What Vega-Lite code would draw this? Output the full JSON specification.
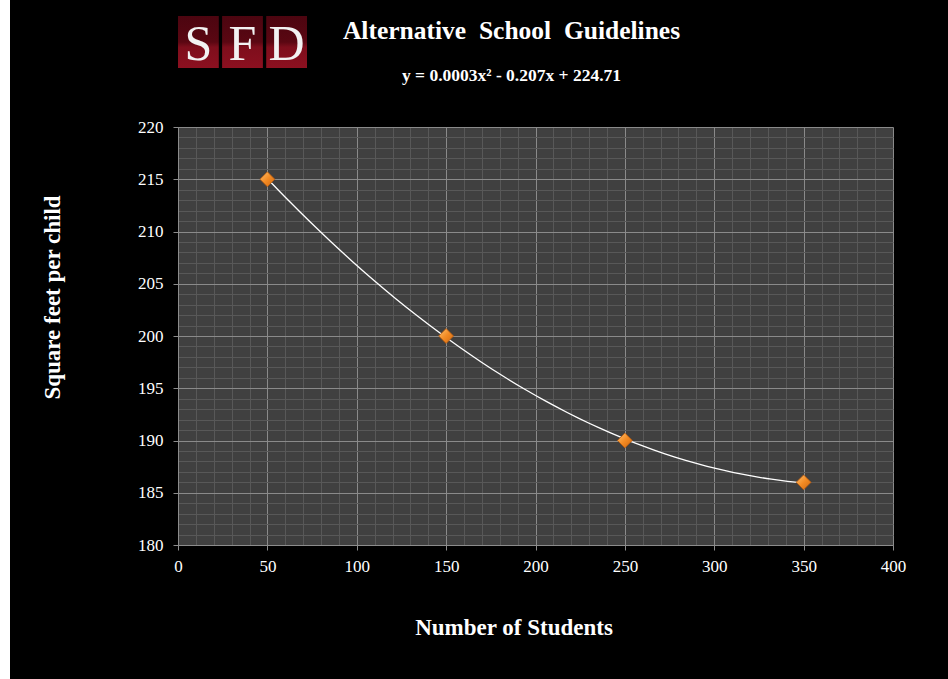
{
  "$schema": "https://vega.github.io/schema/vega-lite/v6.json",
  "background": "black",
  "autosize": {"type": "pad"},
  "padding": {"left": 0, "top": 0, "right": 46, "bottom": 0},
  "bounds": "flush",
  "spacing": 168,
  "config": {
    "font": "Liberation Serif",
    "view": {"stroke": null},
    "axis": {
      "labelColor": "white",
      "labelFont": "Liberation Serif",
      "labelFontSize": 17,
      "titleColor": "white",
      "titleFont": "Liberation Serif",
      "titleFontSize": 23,
      "titleFontWeight": "bold",
      "domainColor": "#8c8c8c",
      "tickColor": "#8c8c8c",
      "labelOverlap": false,
      "labelFlush": false
    },
    "title": {
      "color": "white",
      "font": "Liberation Serif",
      "fontSize": 25.5,
      "fontWeight": "bold",
      "subtitleColor": "white",
      "subtitleFont": "Liberation Serif",
      "subtitleFontSize": 17.5,
      "subtitleFontWeight": "bold"
    }
  },
  "hconcat": [
    {
      "width": 10,
      "height": 679,
      "view": {"fill": "white", "stroke": null},
      "data": {"values": []},
      "mark": {"type": "point", "opacity": 0}
    },
    {
      "bounds": "flush",
      "spacing": 59,
      "vconcat": [
        {
          "width": 129,
          "height": 68,
          "data": {
            "values": [
              {"letter": "S", "logo": "SFD"},
              {"letter": "F", "logo": "SFD"},
              {"letter": "D", "logo": "SFD"}
            ]
          },
          "encoding": {
            "x": {
              "field": "letter",
              "type": "nominal",
              "sort": null,
              "scale": {"paddingInner": 0.075, "paddingOuter": 0},
              "axis": null
            },
            "y": {
              "field": "logo",
              "type": "nominal",
              "scale": {"paddingInner": 0, "paddingOuter": 0.1538, "align": 1},
              "axis": null
            }
          },
          "layer": [
            {
              "mark": {
                "type": "rect",
                "fill": {
                  "gradient": "linear",
                  "x1": 0, "y1": 0, "x2": 0, "y2": 1,
                  "stops": [
                    {"offset": 0, "color": "#4c0510"},
                    {"offset": 0.5, "color": "#5a0712"},
                    {"offset": 0.6, "color": "#7e0e1c"},
                    {"offset": 1, "color": "#8c1020"}
                  ]
                }
              }
            },
            {
              "mark": {
                "type": "text",
                "color": "#f2f2f2",
                "font": "Liberation Serif",
                "fontSize": 50,
                "baseline": "middle",
                "dy": 3
              },
              "encoding": {"text": {"field": "letter"}}
            }
          ]
        },
        {
          "width": 715,
          "height": 418,
          "view": {"fill": "#404040", "stroke": null},
          "title": {
            "text": "Alternative\u00a0 School\u00a0 Guidelines",
            "subtitle": "y = 0.0003x² - 0.207x + 224.71",
            "anchor": "middle",
            "frame": "group",
            "offset": 34,
            "subtitlePadding": 22,
            "dx": -24
          },
          "data": {
            "values": [
              {"students": 50, "sqft": 215},
              {"students": 150, "sqft": 200},
              {"students": 250, "sqft": 190},
              {"students": 350, "sqft": 186}
            ]
          },
          "encoding": {
            "x": {
              "field": "students",
              "type": "quantitative",
              "scale": {"domain": [0, 400], "nice": false},
              "axis": {
                "title": "Number of Students",
                "titleX": 335.5,
                "titlePadding": 42,
                "values": [0,10,20,30,40,50,60,70,80,90,100,110,120,130,140,150,160,170,180,190,200,210,220,230,240,250,260,270,280,290,300,310,320,330,340,350,360,370,380,390,400],
                "grid": true,
                "gridColor": {"condition": {"test": "datum.value % 50 === 0", "value": "#8a8a8a"}, "value": "#585858"},
                "tickOpacity": {"condition": {"test": "datum.value % 50 === 0", "value": 1}, "value": 0},
                "tickSize": 5,
                "labelPadding": 8,
                "labelExpr": "datum.value % 50 === 0 ? datum.label : ''"
              }
            },
            "y": {
              "field": "sqft",
              "type": "quantitative",
              "scale": {"domain": [180, 220], "nice": false, "zero": false},
              "axis": {
                "title": "Square feet per child",
                "titleY": 170,
                "titlePadding": 73,
                "values": [180,181,182,183,184,185,186,187,188,189,190,191,192,193,194,195,196,197,198,199,200,201,202,203,204,205,206,207,208,209,210,211,212,213,214,215,216,217,218,219,220],
                "grid": true,
                "gridColor": {"condition": {"test": "datum.value % 5 === 0", "value": "#8a8a8a"}, "value": "#585858"},
                "tickOpacity": {"condition": {"test": "datum.value % 5 === 0", "value": 1}, "value": 0},
                "tickSize": 5,
                "labelPadding": 10,
                "labelExpr": "datum.value % 5 === 0 ? datum.label : ''"
              }
            }
          },
          "layer": [
            {
              "transform": [
                {"regression": "sqft", "on": "students", "method": "poly", "order": 2, "extent": [50, 350]}
              ],
              "mark": {"type": "line", "color": "white", "strokeWidth": 1.3, "interpolate": "monotone"}
            },
            {
              "mark": {
                "type": "point",
                "shape": "diamond",
                "size": 220,
                "filled": true,
                "opacity": 1,
                "fill": {
                  "gradient": "linear",
                  "x1": 0, "y1": 0, "x2": 1, "y2": 1,
                  "stops": [
                    {"offset": 0, "color": "#ffc26e"},
                    {"offset": 0.5, "color": "#f38b24"},
                    {"offset": 1, "color": "#cf6810"}
                  ]
                },
                "stroke": "#b85a10",
                "strokeWidth": 0.8
              }
            }
          ]
        }
      ]
    }
  ]
}
